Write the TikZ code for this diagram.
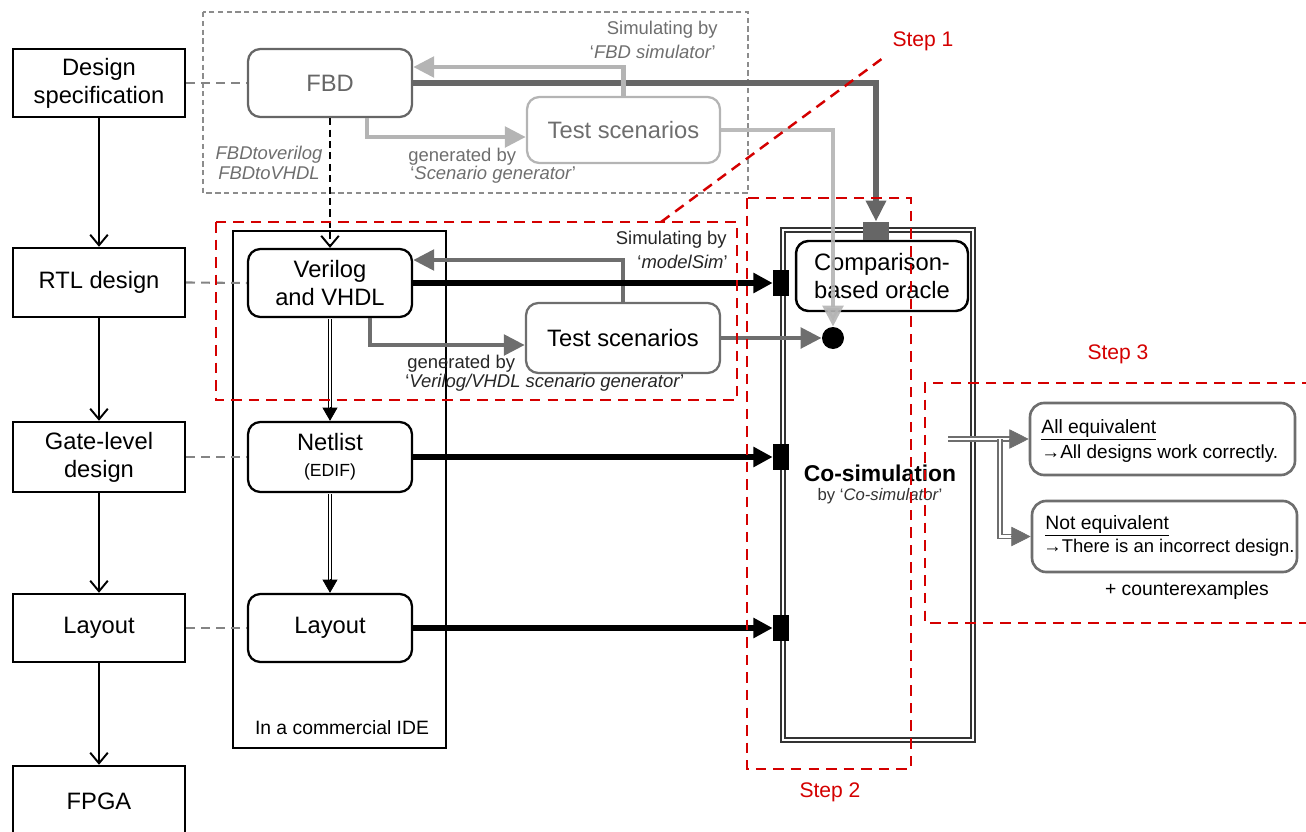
\documentclass[tikz,border=0pt]{standalone}
\usepackage{fontspec}
\setmainfont{Liberation Sans}
\usetikzlibrary{arrows.meta,calc}
\definecolor{lg}{HTML}{B4B4B4}
\definecolor{mg}{HTML}{6E6E6E}
\definecolor{dg}{HTML}{666666}
\definecolor{stepred}{HTML}{D40000}
\tikzset{
  lbox/.style={draw, line width=1.4pt, minimum width=3.44cm, inner sep=0pt, align=center, font=\fontsize{13.5}{16}\selectfont},
  rbox/.style={draw, rounded corners=7pt, line width=1.3pt, minimum width=3.28cm, inner sep=0pt, align=center, font=\fontsize{13.5}{16}\selectfont},
  resbox/.style={draw=mg, rounded corners=8pt, line width=1.5pt, minimum width=5.3cm, inner sep=0pt},
  flowarr/.style={line width=1.1pt, -{Straight Barb[length=6pt,width=10pt]}},
  tracedash/.style={draw=mg!85, line width=1.2pt, dash pattern=on 5pt off 3.5pt},
  stepdash/.style={draw=stepred, line width=1.4pt, dash pattern=on 6pt off 4pt},
  steplbl/.style={text=stepred, font=\fontsize{12}{14}\selectfont},
  lbl/.style={font=\fontsize{10.5}{12.5}\selectfont, inner sep=0pt},
  port/.style={fill=black, minimum width=0.32cm, minimum height=0.52cm, inner sep=0pt},
  blkarr/.style={line width=3pt, -{Triangle[length=11pt,width=11pt]}},
  lgarr/.style={draw=lg, line width=2.8pt, -{Triangle[length=12pt,width=11.5pt]}, color=lg},
  mgarr/.style={draw=mg, line width=2.8pt, -{Triangle[length=12pt,width=11.5pt]}, color=mg},
  dblblk/.style={draw=black, line width=0.8pt, double=white, double distance=1.2pt},
  dblgray/.style={draw=mg, line width=0.8pt, double=white, double distance=1.6pt},
}
\begin{document}
\begin{tikzpicture}[x=0.02cm,y=-0.02cm]
\useasboundingbox (0,0) rectangle (1306,832);

% frames
\draw[draw=black!45, line width=0.7pt, dash pattern=on 3pt off 2pt] (203,12) rectangle (748,193);
\draw[line width=0.7pt] (233,231) rectangle (446,748);
\node[font=\fontsize{11}{13}\selectfont] (idelbl) at (342,728) {In a commercial IDE};

% left column
\node[lbox, minimum height=1.36cm] (ds) at (99,83) {Design\\specification};
\node[lbox, minimum height=1.38cm] (rtl) at (99,282.5) {RTL design};
\node[lbox, minimum height=1.40cm] (gate) at (99,457) {Gate-level\\design};
\node[lbox, minimum height=1.36cm] (lay) at (99,628) {Layout};
\node[lbox, minimum height=1.40cm] (fpga) at (99,801) {FPGA};
\draw[flowarr] (ds) -- (rtl);
\draw[flowarr] (rtl) -- (gate);
\draw[flowarr] (gate) -- (lay);
\draw[flowarr] (lay) -- (fpga);

% middle column
\node[rbox, draw=dg, text=dg, minimum height=1.36cm] (fbd) at (330,83) {FBD};
\node[rbox, draw=lg, text=mg, minimum width=3.86cm, minimum height=1.32cm] (ts1) at (623.5,130) {Test scenarios};
\node[rbox, minimum height=1.36cm] (ver) at (330,283) {Verilog\\and VHDL};
\node[rbox, draw=mg, minimum width=3.88cm, minimum height=1.40cm] (ts2) at (623,338) {Test scenarios};
\node[rbox, minimum height=1.40cm] (net) at (330,457) {Netlist\\[-1pt]{\fontsize{10}{12}\selectfont(EDIF)}};
\node[rbox, minimum height=1.36cm] (lay2) at (330,628) {Layout};

% trace dashes
\draw[tracedash] (ds.east) -- (fbd.west);
\draw[tracedash] (rtl.east) -- (ver.west);
\draw[tracedash] (gate.east) -- (net.west);
\draw[tracedash] (lay.east) -- (lay2.west);

% FBD to Verilog
\draw[line width=1.1pt, dash pattern=on 4pt off 2.5pt, -{Straight Barb[length=6pt,width=10pt]}] (fbd.south) -- (ver.north);
\node[lbl, text=mg, align=center, font=\itshape\fontsize{10.5}{11.3}\selectfont] (fbdtv) at (269,163) {FBDtoverilog\\FBDtoVHDL};

% co-simulation
\node[draw=black!80, line width=0.8pt, double=white, double distance=1.6pt, minimum width=3.8cm, minimum height=10.2cm, inner sep=0pt] (cosim) at (878,485) {};
\node[rbox, minimum width=3.44cm, minimum height=1.40cm, line width=1.4pt] (orc) at (882,276) {Comparison-\\based oracle};
\node[font=\bfseries\fontsize{13}{15}\selectfont] (cst) at (880,473) {Co-simulation};
\node[font=\fontsize{9.5}{11}\selectfont, text=black!80] (csb) at (880,496) {by ‘\textit{Co-simulator}’};
\node[port] (p1) at (781,283) {};
\node[port] (p2) at (781,457) {};
\node[port] (p3) at (781,628) {};
\node[fill=dg, minimum width=0.52cm, minimum height=0.36cm, inner sep=0pt] (sq) at (876,231) {};
\node[circle, fill=black, minimum size=0.44cm, inner sep=0pt] (circ) at (833,338) {};

% top arrows
\draw[draw=dg, line width=3.3pt, -{Triangle[length=12pt,width=11pt]}, color=dg] (fbd.east) -| (sq.north);
\draw[lgarr] (ts1.north) |- ($(fbd.east)+(0,-16)$);
\draw[lgarr] ($(fbd.south)+(37,0)$) |- ($(ts1.west)+(0,7)$);
\node[lbl, text=mg, anchor=east] (sim1) at (718,30) {Simulating by};
\node[lbl, text=mg, anchor=east] (sim1b) at (716,52) {‘\textit{FBD simulator}’};
\node[lbl, text=mg, anchor=west] (gen1) at (408,157) {generated by};
\node[lbl, text=mg, anchor=west] (gen1b) at (410,175) {‘\textit{Scenario generator}’};

% middle arrows
\draw[mgarr] (ts2.north) |- ($(ver.east)+(0,-23)$);
\draw[mgarr] ($(ver.south)+(40,0)$) |- ($(ts2.west)+(0,7)$);
\node[lbl, text=black!85, anchor=east] (sim2) at (727,240) {Simulating by};
\node[lbl, text=black!85, anchor=east] (sim2b) at (728,262) {‘\textit{modelSim}’};
\node[lbl, text=black!85, anchor=west] (gen2) at (407,364) {generated by};
\node[lbl, text=black!85, anchor=west] (gen2b) at (405,383) {‘\textit{Verilog/VHDL scenario generator}’};

% black arrows to co-sim
\draw[blkarr] (ver.east) -- (p1.west);
\draw[blkarr] (net.east) -- (p2.west);
\draw[blkarr] (lay2.east) -- (p3.west);
\draw[mgarr] (ts2.east) -- (circ.west);
\draw[lgarr, opacity=0.9] (ts1.east) -| (circ.north);

% vertical double arrows
\draw[dblblk, shorten >=7pt] ($(ver.south)+(0,1)$) -- (net.north);
\draw[line width=0.4pt, -{Triangle[length=7.5pt,width=8.5pt]}] ($(net.north)+(0,-14)$) -- (net.north);
\draw[dblblk, shorten >=7pt] ($(net.south)+(0,1)$) -- (lay2.north);
\draw[line width=0.4pt, -{Triangle[length=7.5pt,width=8.5pt]}] ($(lay2.north)+(0,-14)$) -- (lay2.north);

% results
\node[resbox, minimum height=1.44cm] (ae) at (1162.5,439) {};
\node[resbox, minimum height=1.42cm] (ne) at (1164.5,536.5) {};
\node[anchor=west, inner sep=0pt, font=\fontsize{11}{12}\selectfont] (aet) at (1041,430) {\underline{All equivalent}};
\node[anchor=west, inner sep=0pt, font=\fontsize{10.8}{12}\selectfont] (aed) at (1041,454) {→All designs work correctly.};
\node[anchor=west, inner sep=0pt, font=\fontsize{11}{12}\selectfont] (net1) at (1045,526) {\underline{Not equivalent}};
\node[anchor=west, inner sep=0pt, font=\fontsize{10.5}{12}\selectfont] (ned) at (1043,548) {→There is an incorrect design.};
\node[font=\fontsize{11}{12}\selectfont] (cex) at (1187,590) {+ counterexamples};

\coordinate (s3) at (948,439);
\coordinate (br) at (1000,439);
\draw[dblgray, shorten >=9pt] (s3) -- (ae.west);
\draw[dblgray, shorten >=9pt] (br) |- (ne.west);
\draw[mg, line width=0.4pt, -{Triangle[length=11pt,width=11pt]}] ($(ae.west)+(-20,0)$) -- (ae.west);
\draw[mg, line width=0.4pt, -{Triangle[length=11pt,width=11pt]}] ($(ne.west)+(-20,0)$) -- (ne.west);

% steps
\draw[stepdash] (216,222) rectangle (737,400);
\draw[stepdash] (747,198) rectangle (911,769);
\draw[stepdash] (1330,383) -- (925,383) -- (925,623) -- (1330,623);
\node[steplbl] (st1) at (923,41) {Step 1};
\node[steplbl] (st2) at (830,792) {Step 2};
\node[steplbl] (st3) at (1118,354) {Step 3};
\coordinate (s1a) at (661,222);
\coordinate (s1b) at (887,55);
\draw[stepdash] (s1a) -- (s1b);
\end{tikzpicture}
\end{document}
